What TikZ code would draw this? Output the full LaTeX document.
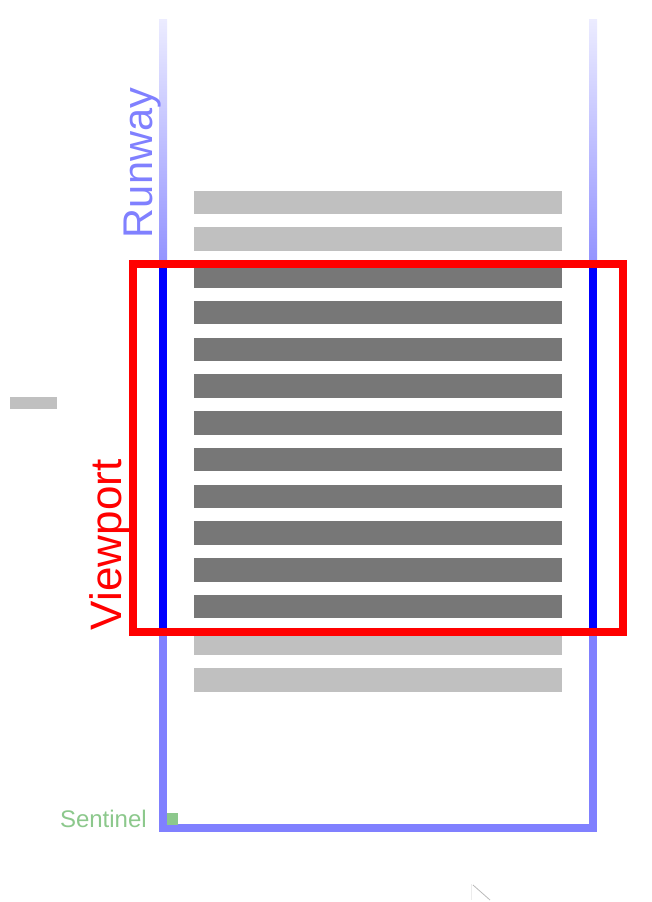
\documentclass[tikz,border=0pt]{standalone}
\usepackage{fontspec}
\setmainfont{Liberation Sans}
\definecolor{lightbar}{RGB}{192,192,192}
\definecolor{darkbar}{RGB}{119,119,119}
\definecolor{runway}{RGB}{128,128,255}
\definecolor{sent}{RGB}{140,200,140}
\begin{document}
\begin{tikzpicture}[x=1pt,y=-1pt,
  lightrow/.style={fill=lightbar},
  darkrow/.style={fill=darkbar},
  rail/.style={line width=8pt},
  lbl/.style={inner sep=0pt, outer sep=0pt}]
\useasboundingbox (0,0) rectangle (652,902);
% list rows
\foreach \i in {0,1,12,13}{
  \pgfmathsetmacro\yy{190.5+36.75*\i}
  \fill[lightrow] (194,\yy) rectangle (562,\yy+23.5);
}
\foreach \i in {2,...,11}{
  \pgfmathsetmacro\yy{190.5+36.75*\i}
  \fill[darkrow] (194,\yy) rectangle (562,\yy+23.5);
}
% small grey item at left
\fill[lightrow] (10,397) rectangle (57,409);
% runway: faded upper part
\shade[top color=runway!15, bottom color=runway!85] (159,19) rectangle (167,262);
\shade[top color=runway!15, bottom color=runway!85] (589,19) rectangle (597,262);
% runway inside viewport
\draw[rail, blue] (163,262) -- (163,632);
\draw[rail, blue] (593,262) -- (593,632);
% runway lower part
\draw[rail, runway, line join=miter] (163,632) -- (163,828) -- (593,828) -- (593,632);
% viewport
\draw[rail, red] (133,264) rectangle (623,632);
% labels
\node[lbl, rotate=90, anchor=base west, text=runway, font=\fontsize{41.5}{41.5}\selectfont] (runwaylbl) at (152,238) {Runway};
\node[lbl, rotate=90, anchor=base west, text=red, font=\fontsize{44}{44}\selectfont] (viewportlbl) at (121,630) {Viewport};
\node[lbl, anchor=base west, text=sent, font=\fontsize{24}{24}\selectfont] (sentinellbl) at (60,827) {Sentinel};
\fill[sent] (167,813) rectangle (178,825);
% faint cursor artifact
\draw[gray!55, line width=0.8pt] (473,885) -- (490,900);
\draw[gray!15, line width=0.6pt] (471,884) -- (471,900);
\end{tikzpicture}
\end{document}
